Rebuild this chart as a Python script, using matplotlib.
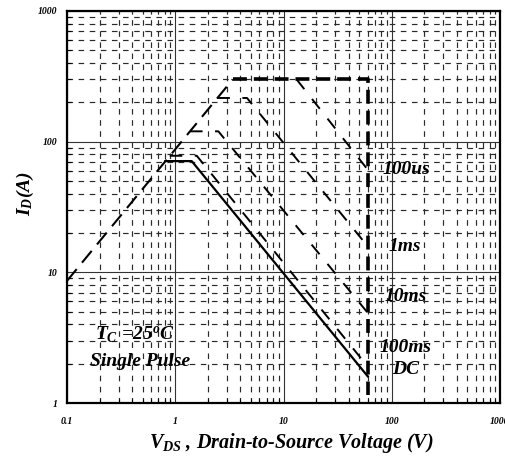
import matplotlib
matplotlib.use("Agg")
import matplotlib.pyplot as plt
from matplotlib.ticker import FixedLocator, FixedFormatter, LogLocator, NullFormatter

plt.rcParams["lines.scale_dashes"] = False
plt.rcParams["mathtext.fontset"] = "custom"
plt.rcParams["mathtext.it"] = "Liberation Serif:italic:bold"
plt.rcParams["mathtext.rm"] = "Liberation Serif:italic:bold"
plt.rcParams["mathtext.bf"] = "Liberation Serif:italic:bold"

# Safe operating area curves: drain-source voltage (V) vs drain current (A)
rds_v = [0.1, 3.4]
rds_i = [8.6, 300]

limit_v = [3.4, 60, 60]
limit_i = [300, 300, 1.15]

us100_v = [13.2, 60]
us100_i = [300, 61]

ms1_v = [2.45, 4.6, 60]
ms1_i = [216, 216, 15.8]

ms10_v = [1.37, 2.5, 60]
ms10_i = [120, 120, 4.9]

ms100_v = [0.89, 1.58, 60]
ms100_i = [78, 78, 1.9]

dc_v = [0.81, 1.42, 60]
dc_i = [71, 71, 1.6]

curve_labels = ["100us", "1ms", "10ms", "100ms", "DC"]
label_v = [82, 94, 86, 77, 101]
label_i = [61, 15.7, 6.5, 2.64, 1.79]

x_ticks = [0.1, 1, 10, 100, 1000]
x_tick_labels = ["0.1", "1", "10", "100", "1000"]
y_ticks = [1, 10, 100, 1000]
y_tick_labels = ["1", "10", "100", "1000"]

serif = "Liberation Serif"

fig = plt.figure(figsize=(5.06, 4.61), dpi=100)
ax = fig.add_axes([67 / 506, 58 / 461, 433 / 506, 392 / 461])
ax.set_xscale("log")
ax.set_yscale("log")
ax.set_xlim(0.1, 1000)
ax.set_ylim(1, 1000)

# grid: solid decades, dashed minor lines
ax.xaxis.set_minor_locator(LogLocator(base=10, subs=range(2, 10)))
ax.yaxis.set_minor_locator(LogLocator(base=10, subs=range(2, 10)))
ax.xaxis.set_minor_formatter(NullFormatter())
ax.yaxis.set_minor_formatter(NullFormatter())
ax.grid(which="major", linestyle="-", linewidth=0.8, color="#333333")
ax.grid(which="minor", linestyle=(0, (4, 4)), linewidth=0.85, color="#2a2a2a")
ax.set_axisbelow(True)

ax.xaxis.set_major_locator(FixedLocator(x_ticks))
ax.xaxis.set_major_formatter(FixedFormatter(x_tick_labels))
ax.yaxis.set_major_locator(FixedLocator(y_ticks))
ax.yaxis.set_major_formatter(FixedFormatter(y_tick_labels))
ax.tick_params(which="both", direction="in", color="black")
ax.tick_params(which="major", length=0)
ax.tick_params(which="minor", length=3, width=0.8)
ax.tick_params(axis="x", which="major", pad=10)
ax.tick_params(axis="y", which="major", pad=7)
for lab in ax.get_xticklabels() + ax.get_yticklabels():
    lab.set_fontfamily(serif)
    lab.set_fontweight("bold")
    lab.set_fontstyle("italic")
    lab.set_fontsize(7)

for sp in ax.spines.values():
    sp.set_linewidth(1.6)
    sp.set_color("black")

# curves
ax.plot(rds_v, rds_i, color="black", lw=1.5, dashes=(11, 6))
ax.plot(limit_v, limit_i, color="black", lw=2.6, dashes=(10, 5))
ax.plot(us100_v, us100_i, color="black", lw=1.4, dashes=(9, 9))
ax.plot(ms1_v, ms1_i, color="black", lw=1.4, dashes=(9, 9))
ax.plot(ms10_v, ms10_i, color="black", lw=1.4, dashes=(9, 9))
ax.plot(ms100_v, ms100_i, color="black", lw=1.4, dashes=(9, 9))
ax.plot(dc_v, dc_i, color="black", lw=1.6)

txt = dict(family=serif, weight="bold", style="italic", fontsize=14, color="black")
for name, xv, yv in zip(curve_labels, label_v, label_i):
    ax.text(xv, yv, name, ha="left", va="center", **txt)

ax.text(0.156, 0.173, r"$T_{C}$ =25$^{o}$C", transform=ax.transAxes,
        ha="center", va="center", **txt)
ax.text(0.169, 0.105, "Single Pulse", transform=ax.transAxes,
        ha="center", va="center", **txt)

ax.set_xlabel(r"$V_{DS}$ , Drain-to-Source Voltage (V)", **dict(txt, fontsize=14.5))
ax.set_ylabel(r"$I_{D}$(A)", **txt)
ax.xaxis.label.set_va("center")
ax.yaxis.label.set_va("center")
ax.yaxis.label.set_ha("center")
ax.xaxis.set_label_coords(0.518, -0.102)
ax.yaxis.set_label_coords(-0.097, 0.533)

fig.savefig("out.png", dpi=100)
